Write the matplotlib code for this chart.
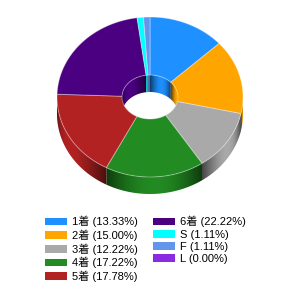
import numpy as np
import matplotlib.pyplot as plt
import matplotlib.colors as mcolors
from matplotlib.patches import Polygon, Patch

# データ
labels = ['1着', '2着', '3着', '4着', '5着', '6着', 'S', 'F', 'L']
counts = [24, 27, 22, 31, 32, 40, 2, 2, 0]
colors = ['#1e90ff', '#ffa500', '#a9a9a9', '#228b22', '#b22222',
          '#4b0082', '#00ffff', '#6495ed', '#8a2be2']

plt.rcParams['font.family'] = ['Liberation Sans', 'Noto Sans CJK JP', 'DejaVu Sans']

# 3D ドーナツの形状 (ピクセル座標)
cx, cy = 150, 97
rx, ry = 93, 80
irx, iry = 28, 22
depth = 17


def pt(theta, a, b, dy=0.0):
    t = np.radians(theta)
    return cx + a * np.sin(t), cy - b * np.cos(t) + dy


def wall(ax, c, lo, hi, a, b, front=True):
    # 側面: 多角形に横方向のグラデーション画像をクリップ
    if hi - lo <= 0:
        return
    angs = np.linspace(lo, hi, max(3, int(hi - lo) + 2))
    top = [pt(t, a, b) for t in angs]
    bot = [pt(t, a, b, depth) for t in angs[::-1]]
    poly = Polygon(top + bot, closed=True, facecolor='none', edgecolor='none',
                   transform=ax.transData)
    ax.add_patch(poly)
    xs = np.array([p[0] for p in top + bot])
    ys = np.array([p[1] for p in top + bot])
    x0, x1 = xs.min() - 1, xs.max() + 1
    y0, y1 = ys.min() - 1, ys.max() + 1
    w = max(2, int(np.ceil(x1 - x0)) * 2)
    px = np.linspace(x0, x1, w)
    s = np.degrees(np.arcsin(np.clip((px - cx) / a, -1, 1)))
    if front:
        th = 180 - s
    else:
        th = np.where(s < 0, s + 360, s) if lo >= 270 else s
    tt = np.clip((th - lo) / (hi - lo), 0, 1)
    f = 0.42 + 0.58 * np.sin(np.pi * tt)
    rgb = np.array(mcolors.to_rgb(c))
    img = np.clip(f[:, None] * rgb[None, :], 0, 1)[None, :, :]
    im = ax.imshow(img, extent=(x0, x1, y1, y0), aspect='auto',
                   interpolation='bilinear', zorder=1)
    im.set_clip_path(poly)


fig = plt.figure(figsize=(3, 3), dpi=100)
ax = fig.add_axes([0, 0, 1, 1])
ax.axis('off')

total = sum(counts)
bounds = np.concatenate([[0], np.cumsum(counts)]) / total * 360

# 外側の側面 (手前半分)
for i, c in enumerate(colors):
    a0, a1 = bounds[i], bounds[i + 1]
    wall(ax, c, max(a0, 90), min(a1, 270), rx, ry, front=True)

# 穴の内側の壁 (奥半分)
for i, c in enumerate(colors):
    a0, a1 = bounds[i], bounds[i + 1]
    wall(ax, c, max(a0, 270), min(a1, 360), irx, iry, front=False)
    wall(ax, c, max(a0, 0), min(a1, 90), irx, iry, front=False)

# 上面
for i, c in enumerate(colors):
    a0, a1 = bounds[i], bounds[i + 1]
    if a1 - a0 <= 0:
        continue
    angs = np.linspace(a0, a1, max(3, int(a1 - a0) + 2))
    outer = [pt(a, rx, ry) for a in angs]
    inner = [pt(a, irx, iry) for a in angs[::-1]]
    ax.add_patch(Polygon(outer + inner, closed=True, facecolor=c,
                         edgecolor=(1, 1, 1, 0.35), linewidth=0.7, zorder=2))

ax.set_xlim(0, 300)
ax.set_ylim(300, 0)

# 凡例
handles = [Patch(facecolor=c, edgecolor='none') for c in colors]
leg_labels = [f'{l} ({n / total * 100:.2f}%)' for l, n in zip(labels, counts)]
fig.legend(handles, leg_labels, ncol=2, loc='upper left',
           bbox_to_anchor=(45 / 300, 1 - 216 / 300), frameon=False,
           fontsize=8, handlelength=2.0, handleheight=0.7, handletextpad=0.45,
           labelspacing=0.2, columnspacing=1.3, borderpad=0, borderaxespad=0)

fig.savefig('out.png', dpi=100)
